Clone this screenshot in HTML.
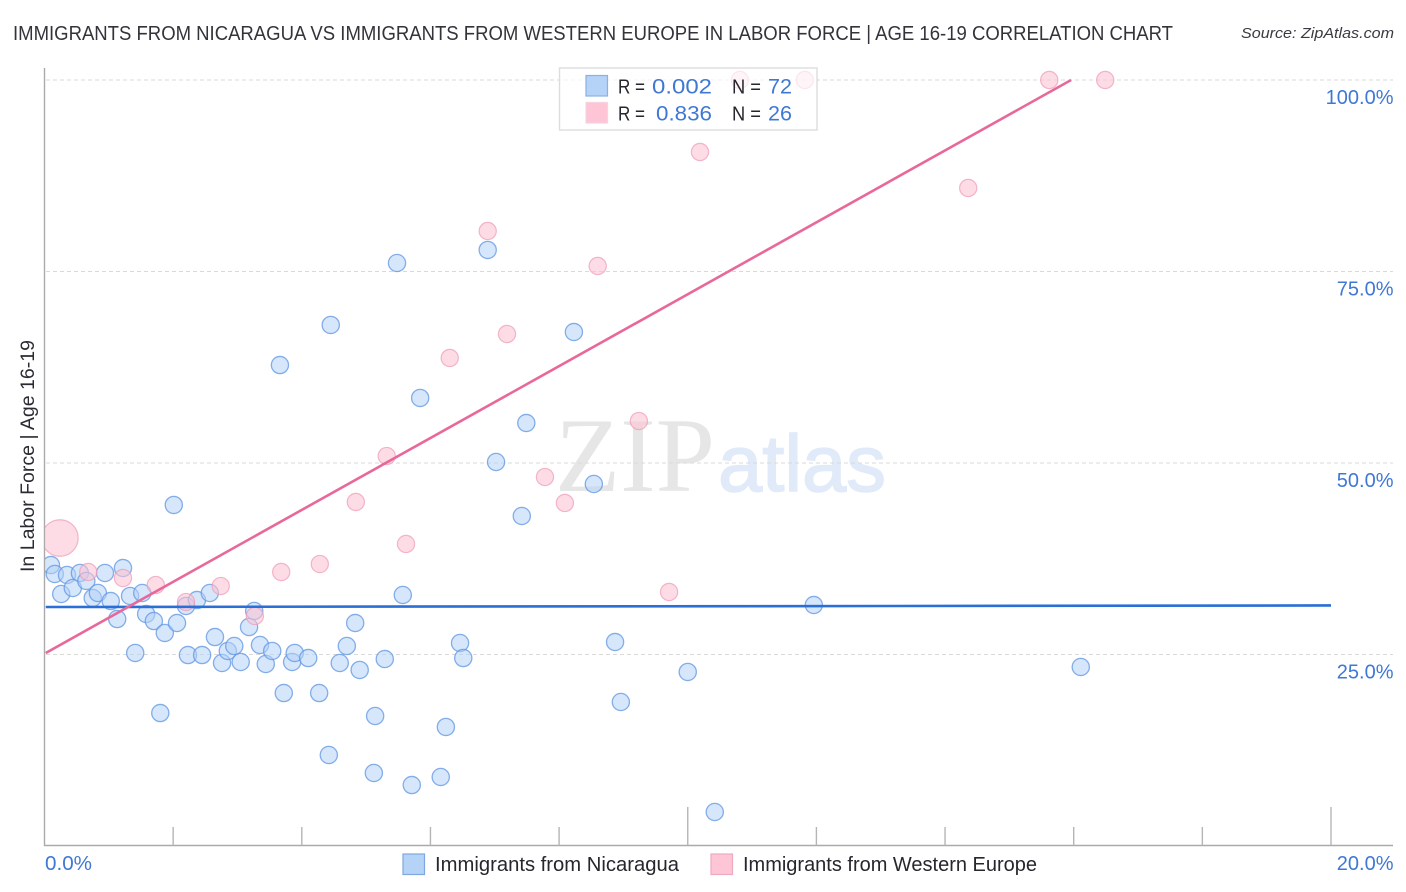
<!DOCTYPE html>
<html lang="en">
<head>
<meta charset="utf-8">
<title>Immigrants from Nicaragua vs Immigrants from Western Europe in Labor Force | Age 16-19 Correlation Chart</title>
<style>
  html, body { margin: 0; padding: 0; background: #fff; }
  svg { display: block; font-family: "Liberation Sans", sans-serif; }
</style>
</head>
<body>
<svg id="chart" xmlns="http://www.w3.org/2000/svg" width="1406" height="892" viewBox="0 0 1406 892">
  <defs>
    <clipPath id="plot-clip"><rect x="45" y="60" width="1300" height="786"></rect></clipPath>
  </defs>
  <rect x="0" y="0" width="1406" height="892" fill="#ffffff"></rect>
  <text x="13" y="40" font-size="20" fill="#33333b" textLength="1160" lengthAdjust="spacingAndGlyphs">IMMIGRANTS FROM NICARAGUA VS IMMIGRANTS FROM WESTERN EUROPE IN LABOR FORCE | AGE 16-19 CORRELATION CHART</text>
  <text x="1241" y="38" font-size="15" font-style="italic" fill="#3a3a42" textLength="153" lengthAdjust="spacingAndGlyphs">Source: ZipAtlas.com</text>
  <g id="watermark">
    <text x="555" y="491" font-family="'Liberation Serif', serif" font-size="106" fill="#e6e6e6" textLength="160" lengthAdjust="spacingAndGlyphs">ZIP</text>
    <text x="718" y="491" font-family="'Liberation Sans', sans-serif" font-size="80" fill="#e0eaf8" stroke="#e0eaf8" stroke-width="1.5" textLength="168" lengthAdjust="spacingAndGlyphs">atlas</text>
  </g>
  <g id="grid"></g>
  <g id="axes"></g>
  <g id="blue-points" clip-path="url(#plot-clip)"></g>
  <g id="pink-points" clip-path="url(#plot-clip)"></g>
  <g id="trends"></g>
  <g id="stats-legend">
    <rect x="559.5" y="68" width="257.5" height="62" fill="#ffffff" fill-opacity="0.68" stroke="#dddddd" stroke-width="1.4"></rect>
    <rect x="586" y="75.5" width="21.5" height="20.5" fill="#b5d2f7" stroke="#8ab0e6" stroke-width="1.2"></rect>
    <rect x="586" y="102.5" width="21.5" height="20.5" fill="#fdc5d6" stroke="#f8d2de" stroke-width="1.2"></rect>
    <text x="618" y="93.5" font-size="20" fill="#26262e" textLength="27" lengthAdjust="spacingAndGlyphs">R =</text>
    <text x="652" y="93.5" font-size="21" fill="#3f78d4" textLength="60" lengthAdjust="spacingAndGlyphs">0.002</text>
    <text x="732" y="93.5" font-size="20" fill="#26262e" textLength="29" lengthAdjust="spacingAndGlyphs">N =</text>
    <text x="768" y="93.5" font-size="21" fill="#3f78d4" textLength="24" lengthAdjust="spacingAndGlyphs">72</text>
    <text x="618" y="120.5" font-size="20" fill="#26262e" textLength="27" lengthAdjust="spacingAndGlyphs">R =</text>
    <text x="656" y="120.5" font-size="21" fill="#3f78d4" textLength="56" lengthAdjust="spacingAndGlyphs">0.836</text>
    <text x="732" y="120.5" font-size="20" fill="#26262e" textLength="29" lengthAdjust="spacingAndGlyphs">N =</text>
    <text x="768" y="120.5" font-size="21" fill="#3f78d4" textLength="24" lengthAdjust="spacingAndGlyphs">26</text>
  </g>
  <text transform="translate(34 572) rotate(-90)" font-size="19" fill="#2b2b33" textLength="232" lengthAdjust="spacingAndGlyphs">In Labor Force | Age 16-19</text>
  <g id="bottom-legend">
    <rect x="403" y="854" width="21.5" height="20.5" fill="#b5d2f7" stroke="#7fa8e0" stroke-width="1.2"></rect>
    <text x="435" y="871" font-size="20" fill="#26262e" textLength="244" lengthAdjust="spacingAndGlyphs">Immigrants from Nicaragua</text>
    <rect x="711" y="854" width="21.5" height="20.5" fill="#fdc5d6" stroke="#eeaabf" stroke-width="1.2"></rect>
    <text x="743" y="871" font-size="20" fill="#26262e" textLength="294" lengthAdjust="spacingAndGlyphs">Immigrants from Western Europe</text>
  </g>
</svg>
<script>
// Axis ticks
const xTickValues = [0, 2, 4, 6, 8, 10, 12, 14, 16, 18, 20];
const xMajorTicks = [0, 10, 20];
const xTickLabels = ["0.0%", "20.0%"];
const yTickValues = [25, 50, 75, 100];
const yTickLabels = ["25.0%", "50.0%", "75.0%", "100.0%"];

// Immigrants from Nicaragua
const nicaraguaX = [0.10,0.16,0.26,0.35,0.44,0.55,0.65,0.75,0.83,0.94,1.03,1.13,1.22,1.33,1.41,1.52,1.58,1.70,1.80,1.87,2.01,2.06,2.20,2.23,2.37,2.45,2.57,2.65,2.76,2.85,2.95,3.05,3.18,3.26,3.35,3.44,3.54,3.72,3.66,3.85,3.89,4.10,4.27,4.42,4.45,4.59,4.70,4.83,4.90,5.12,5.14,5.29,5.48,5.57,5.71,5.84,6.16,6.24,6.46,6.51,6.89,7.02,7.42,7.49,8.23,8.54,8.87,8.96,10.00,10.42,11.96,16.11];
const nicaraguaY = [36.68,35.51,32.90,35.38,33.68,35.64,34.60,32.38,33.03,35.64,31.98,29.63,36.29,32.64,25.20,33.03,30.29,29.37,17.36,27.81,44.52,29.11,31.33,24.93,32.11,24.93,33.03,27.28,23.89,25.46,26.11,24.02,28.59,30.68,26.24,23.76,25.46,19.97,62.79,24.02,25.20,24.54,19.97,11.88,68.02,23.89,26.11,29.11,22.98,9.53,16.97,24.41,76.11,32.77,7.96,58.49,9.01,15.54,26.50,24.54,77.81,50.13,43.08,55.22,67.10,47.26,26.63,18.80,22.72,4.44,31.46,23.37];

// Immigrants from Western Europe
const westernEuropeX = [0.24,0.68,1.22,1.73,2.20,2.74,3.27,3.68,4.28,4.84,5.32,5.62,6.30,6.89,7.19,7.78,8.09,8.60,9.24,9.71,10.19,10.81,11.82,14.36,15.62,16.49];
const westernEuropeY = [40.21,35.77,34.99,34.07,31.85,33.94,30.03,35.77,36.81,44.91,50.91,39.43,63.71,80.29,66.84,48.17,44.78,75.72,55.48,33.16,90.60,100,100,85.90,100,100];
const westernEuropeWeight = [4.5,1,1,1,1,1,1,1,1,1,1,1,1,1,1,1,1,1,1,1,1,1,1,1,1,1];

// Regression lines: start and end of each fit
const nicaraguaTrendX = [0.02, 20];
const nicaraguaTrendY = [31.2, 31.4];
const westernEuropeTrendX = [0.02, 15.96];
const westernEuropeTrendY = [25.2, 100];

const SVG_NS = 'http://www.w3.org/2000/svg';
const xScale = function (v) { return 44.5 + v * 64.325; };
const yScale = function (v) { return 846 - v * 7.66; };
const make = function (parent, tag, attrs, text) {
  const node = document.createElementNS(SVG_NS, tag);
  Object.keys(attrs).forEach(function (k) { node.setAttribute(k, attrs[k]); });
  if (text !== undefined) { node.textContent = text; }
  parent.appendChild(node);
  return node;
};

const gridGroup = document.getElementById('grid');
const axesGroup = document.getElementById('axes');
const bluePoints = document.getElementById('blue-points');
const pinkPoints = document.getElementById('pink-points');
const trendGroup = document.getElementById('trends');

yTickValues.forEach(function (t, i) {
  const line = make(gridGroup, 'line', { x1: 46, x2: 1393, y1: yScale(t), y2: yScale(t), stroke: '#d9d9d9', 'stroke-width': 1, 'stroke-dasharray': '4 3' });
  
  
  const label = make(axesGroup, 'text', { x: 1393.5, y: yScale(t) + 24, 'text-anchor': 'end', 'font-size': 20, fill: '#3f78d4' }, yTickLabels[i]);
  
  
});

const yAxisLine = make(axesGroup, 'line', { x1: 44.5, x2: 44.5, y1: 68, y2: 846, stroke: '#aaaaaa', 'stroke-width': 1.4 });


const xAxisLine = make(axesGroup, 'line', { x1: 44, x2: 1393, y1: 845.5, y2: 845.5, stroke: '#aaaaaa', 'stroke-width': 1.4 });



xTickValues.forEach(function (t) {
  const isMajor = xMajorTicks.indexOf(t) >= 0;
  if (t === 0) { return; }
  const tick = make(axesGroup, 'line', { x1: xScale(t), x2: xScale(t), y1: isMajor ? 807 : 827, y2: 845.5, stroke: '#b5b5b5', 'stroke-width': 1.4 });
  
  
});

const xLabelMin = make(axesGroup, 'text', { x: xScale(xTickValues[0]) + 0.5, y: 870, 'font-size': 20, fill: '#3f78d4', textLength: 47, lengthAdjust: 'spacingAndGlyphs' }, xTickLabels[0]);


const xLabelMax = make(axesGroup, 'text', { x: 1393.5, y: 870, 'text-anchor': 'end', 'font-size': 20, fill: '#3f78d4' }, xTickLabels[1]);



nicaraguaX.forEach(function (v, i) {
  const dot = make(bluePoints, 'circle', { cx: xScale(v), cy: yScale(nicaraguaY[i]), r: 8.6, fill: '#b5d2f7', 'fill-opacity': 0.55, stroke: '#5f96e2', 'stroke-opacity': 0.75, 'stroke-width': 1.3 });
  
  
});

westernEuropeX.forEach(function (v, i) {
  const dot = make(pinkPoints, 'circle', { cx: xScale(v), cy: yScale(westernEuropeY[i]), r: 8.6 * Math.sqrt(westernEuropeWeight[i]), fill: '#fbc2d3', 'fill-opacity': 0.58, stroke: '#ee9ab6', 'stroke-opacity': 0.7, 'stroke-width': 1.2 });
  
  
});

const nicaraguaLine = make(trendGroup, 'line', { x1: xScale(nicaraguaTrendX[0]), x2: xScale(nicaraguaTrendX[1]), y1: yScale(nicaraguaTrendY[0]), y2: yScale(nicaraguaTrendY[1]), stroke: '#2a6fd6', 'stroke-width': 2.6 });


const westernEuropeLine = make(trendGroup, 'line', { x1: xScale(westernEuropeTrendX[0]), x2: xScale(westernEuropeTrendX[1]), y1: yScale(westernEuropeTrendY[0]), y2: yScale(westernEuropeTrendY[1]), stroke: '#e8689a', 'stroke-width': 2.6 });


</script>
</body>
</html>
